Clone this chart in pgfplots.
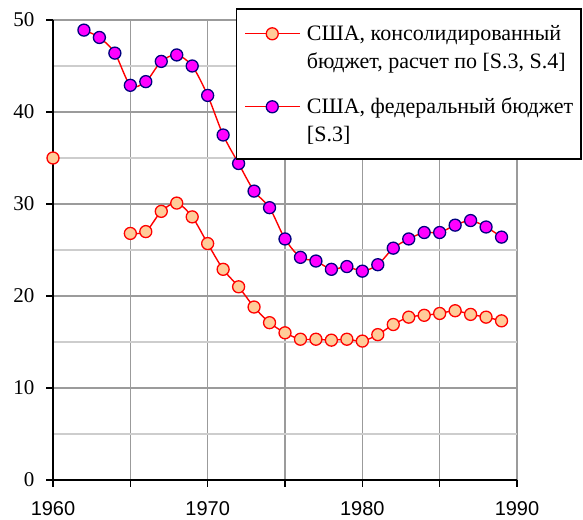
\documentclass[border=0pt]{standalone}
\usepackage{pgfplots}
\pgfplotsset{compat=1.18}
\usepackage{fontspec}
\setmainfont{Liberation Serif}
\newfontfamily\arialfont{Liberation Sans}
\newfontfamily\timesfont{Liberation Serif}

\definecolor{peach}{RGB}{255,204,153}
\definecolor{navyb}{RGB}{0,0,128}
\definecolor{magn}{RGB}{255,0,255}
\definecolor{gridd}{RGB}{155,155,155}
\definecolor{gridl}{RGB}{205,205,205}

\begin{document}
\begin{tikzpicture}
\path[use as bounding box] (0,0) rectangle (583bp,520bp);
\begin{axis}[
 at={(53bp,40bp)}, anchor=south west,
 width=464bp, height=460bp, scale only axis,
 xmin=1960, xmax=1990, ymin=0, ymax=50,
 axis lines=left, axis line style={-, line width=1.6bp, black},
 xtick={1960,1965,...,1990}, xticklabels={1960,,1970,,1980,,1990},
 ytick={0,10,...,50}, minor ytick={5,15,...,45},
 tick align=outside, major tick length=7bp, minor tick length=0pt,
 tick style={line width=1.6bp, black},
 xmajorgrids, ymajorgrids, yminorgrids,
 major grid style={line width=1.5bp, gridd},
 minor grid style={line width=1.5bp, gridl},
 /pgf/number format/assume math mode=true,
 xticklabel style={font=\arialfont\fontsize{20bp}{24bp}\selectfont, yshift=-11bp},
 yticklabel style={font=\timesfont\fontsize{21bp}{24bp}\selectfont, xshift=-8bp},
 legend style={at={(0.394,1.026)}, anchor=north west, draw=black, line width=1.5bp,
   fill=white, inner xsep=8bp, inner ysep=12bp, column sep=6bp, row sep=0pt,
   font=\fontsize{22bp}{28bp}\selectfont, nodes={inner sep=0pt}},
 legend cell align=left,
 legend image code/.code={\draw[mark repeat=2,mark phase=2,#1] plot coordinates {(0bp,1bp)(27bp,1bp)(55bp,1bp)};},
]
\addplot[red, line width=1.4bp, smooth, mark=*, mark size=6bp,
  mark options={fill=peach, draw=red, line width=1.3bp}] coordinates {
(1965,26.8)(1966,27.0)(1967,29.2)(1968,30.1)(1969,28.6)(1970,25.7)
(1971,22.9)(1972,21.0)(1973,18.8)(1974,17.1)(1975,16.0)(1976,15.3)
(1977,15.3)(1978,15.2)(1979,15.3)(1980,15.1)(1981,15.8)(1982,16.9)
(1983,17.7)(1984,17.9)(1985,18.1)(1986,18.4)(1987,18.0)(1988,17.7)(1989,17.3)
};
\addlegendentry[text height=20bp, text depth=8bp]{США, консолидированный}
\addlegendimage{empty legend}
\addlegendentry[text height=20bp, text depth=25bp]{бюджет, расчет по [S.3, S.4]\hspace{4bp}}
\addplot[red, line width=1.4bp, smooth, mark=*, mark size=6bp,
  mark options={fill=magn, draw=navyb, line width=1.3bp}] coordinates {
(1962,48.9)(1963,48.1)(1964,46.4)(1965,42.9)(1966,43.3)(1967,45.5)
(1968,46.2)(1969,45.0)(1970,41.8)(1971,37.5)(1972,34.4)(1973,31.4)
(1974,29.6)(1975,26.2)(1976,24.2)(1977,23.8)(1978,22.9)(1979,23.2)
(1980,22.7)(1981,23.4)(1982,25.2)(1983,26.2)(1984,26.9)(1985,26.9)
(1986,27.7)(1987,28.2)(1988,27.5)(1989,26.4)
};
\addlegendentry[text height=20bp, text depth=8bp]{США, федеральный бюджет}
\addlegendimage{empty legend}
\addlegendentry[text height=20bp, text depth=5bp]{[S.3]}
\addplot[forget plot, only marks, mark=*, mark size=6bp,
  mark options={fill=peach, draw=red, line width=1.3bp}] coordinates {(1960,35.0)};
\end{axis}
\end{tikzpicture}
\end{document}
